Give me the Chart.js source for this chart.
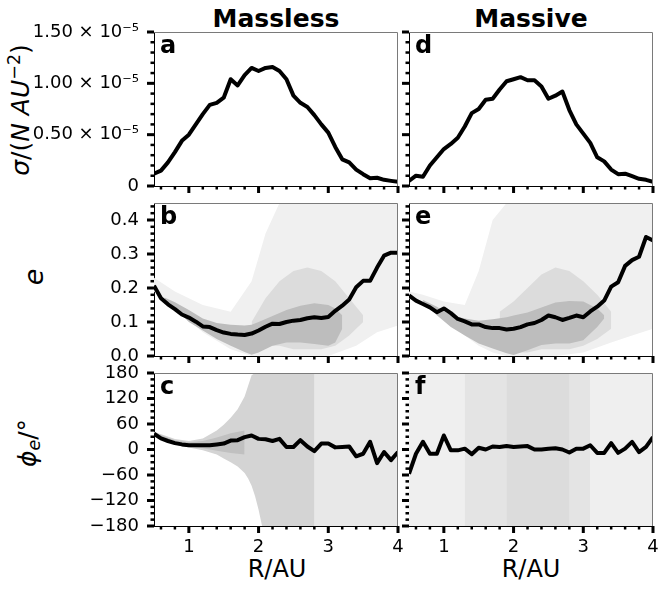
<!DOCTYPE html>
<html>
<head>
<meta charset="utf-8">
<script src="https://cdn.jsdelivr.net/npm/chart.js@4.4.0/dist/chart.umd.min.js"></script>
<style>
	body{margin:0;background:#fff;width:665px;height:589px;position:relative;overflow:hidden;font-family:"DejaVu Sans",sans-serif;}
	canvas{position:absolute;}
	.txt{position:absolute;white-space:nowrap;line-height:1;color:#000;}
	.title{font-size:25px;font-weight:bold;transform:translateX(-50%);}
	.xlab{font-size:24px;transform:translateX(-50%);}
	.ylab{font-size:25px;transform:translate(-50%,-50%) rotate(-90deg);}
	.ylab sup{font-size:0.7em;line-height:0;vertical-align:0.5em;}
	.ylab sub{font-size:0.7em;line-height:0;vertical-align:-0.25em;}
</style>
</head>
<body>
<div class="txt title" style="left:276px;top:6px">Massless</div>
<div class="txt title" style="left:531px;top:6px">Massive</div>
<div class="txt ylab" style="left:20px;top:110px"><i>σ</i>/(<i>N AU</i><sup>−2</sup>)</div>
<div class="txt ylab" style="left:33px;top:277px;font-size:27px"><i>e</i></div>
<div class="txt ylab" style="left:27px;top:443px"><i>ϕ<sub>e</sub></i>/°</div>
<div class="txt xlab" style="left:277px;top:557px">R/AU</div>
<div class="txt xlab" style="left:531px;top:557px">R/AU</div>
<canvas id="panelA"></canvas>
<canvas id="panelB"></canvas>
<canvas id="panelC"></canvas>
<canvas id="panelD"></canvas>
<canvas id="panelE"></canvas>
<canvas id="panelF"></canvas>
<script>
//RADIAL BINS (AU)
var radius=[0.5,0.6,0.7,0.8,0.9,1.0,1.1,1.2,1.3,1.4,1.5,1.6,1.7,1.8,1.9,2.0,2.1,2.2,2.3,2.4,2.5,2.6,2.7,2.8,2.9,3.0,3.1,3.2,3.3,3.4,3.5,3.6,3.7,3.8,3.9,4.0];

//SURFACE DENSITY IN UNITS OF 1e-5 N AU^-2
var sigmaMassless=[0.12,0.15,0.23,0.33,0.44,0.50,0.60,0.70,0.79,0.81,0.86,1.04,0.98,1.08,1.15,1.12,1.15,1.16,1.12,1.04,0.88,0.81,0.77,0.69,0.60,0.52,0.38,0.26,0.23,0.16,0.115,0.075,0.08,0.06,0.05,0.04];
var sigmaMassive=[0.05,0.10,0.09,0.20,0.28,0.36,0.41,0.47,0.58,0.71,0.75,0.84,0.85,0.94,1.02,1.04,1.06,1.03,1.03,0.97,0.85,0.88,0.92,0.74,0.60,0.51,0.42,0.28,0.24,0.16,0.115,0.12,0.095,0.07,0.06,0.04];

//MEAN ECCENTRICITY
var eccMassless=[0.207,0.170,0.152,0.138,0.122,0.113,0.101,0.087,0.085,0.076,0.069,0.065,0.063,0.062,0.066,0.075,0.086,0.095,0.094,0.100,0.104,0.106,0.111,0.114,0.112,0.115,0.133,0.148,0.166,0.202,0.221,0.221,0.260,0.295,0.304,0.304];
var eccMassive=[0.178,0.163,0.153,0.143,0.129,0.140,0.126,0.109,0.102,0.093,0.093,0.085,0.082,0.082,0.078,0.080,0.085,0.093,0.097,0.106,0.119,0.114,0.106,0.112,0.119,0.114,0.131,0.145,0.163,0.204,0.217,0.265,0.282,0.292,0.350,0.340];

//MEAN ECCENTRICITY PHASE (DEG)
var phaseMassless=[37,26,20,15,12,10,10,10,10,12,14,21,22,29,33,25,24,20,25,6,6,22,7,-4,14,14,5,6,7,-16,-10,18,-32,-6,-25,-6];
var phaseMassive=[-57,-10,18,-10,-10,33,-2,-2,2,-11,4,0,7,6,8,6,7,8,0,0,2,3,0,-7,2,2,10,-8,-8,15,-8,2,18,-6,6,29];

//PARTICLE CLOUD ENVELOPES, PANEL b
var bSparseX=[0.5,0.8,1.2,1.6,1.9,2.1,2.3,2.6,3.0,3.4,3.7,4.0];
var bSparseHi=[0.23,0.19,0.15,0.13,0.22,0.36,0.45,0.45,0.45,0.45,0.45,0.45];
var bSparseLo=[0.19,0.14,0.07,0.02,0.0,0.0,0.0,0.0,0.0,0.03,0.07,0.09];
var bMedX=[1.9,2.1,2.3,2.5,2.7,2.9,3.1,3.3,3.5];
var bMedHi=[0.10,0.17,0.22,0.25,0.26,0.25,0.22,0.17,0.12];
var bMedLo=[0.06,0.03,0.03,0.02,0.02,0.02,0.03,0.06,0.10];
var bDenseX=[0.65,0.8,1.0,1.2,1.4,1.6,1.8,1.9,2.0,2.2,2.4,2.6,2.8,3.0,3.1,3.2];
var bDenseHi=[0.172,0.158,0.135,0.11,0.097,0.092,0.09,0.092,0.1,0.118,0.135,0.148,0.155,0.15,0.14,0.12];
var bDenseLo=[0.165,0.14,0.10,0.075,0.05,0.03,0.012,0.004,0.01,0.03,0.04,0.04,0.035,0.03,0.04,0.08];

//PARTICLE CLOUD ENVELOPES, PANEL e
var eSparseX=[0.5,0.7,1.0,1.3,1.5,1.7,1.9,2.2,2.6,3.0,3.4,3.7,4.0];
var eSparseHi=[0.19,0.18,0.16,0.15,0.25,0.40,0.45,0.45,0.45,0.45,0.45,0.45,0.45];
var eSparseLo=[0.17,0.15,0.11,0.06,0.03,0.01,0.0,0.0,0.0,0.01,0.04,0.06,0.08];
var eMedX=[1.8,2.0,2.2,2.4,2.6,2.8,3.0,3.2,3.4];
var eMedHi=[0.13,0.16,0.20,0.24,0.26,0.25,0.22,0.18,0.13];
var eMedLo=[0.03,0.01,0.01,0.02,0.02,0.02,0.03,0.05,0.08];
var eDenseX=[0.7,0.9,1.1,1.3,1.5,1.7,1.9,2.0,2.2,2.4,2.6,2.8,3.0,3.2,3.3];
var eDenseHi=[0.165,0.145,0.12,0.11,0.104,0.108,0.114,0.119,0.128,0.143,0.157,0.162,0.16,0.14,0.12];
var eDenseLo=[0.16,0.12,0.085,0.06,0.037,0.022,0.008,0.003,0.017,0.032,0.037,0.037,0.046,0.085,0.11];

//PARTICLE CLOUD ENVELOPES, PANEL c
var cLightX=[2.05,4.0];
var cLightHi=[180,180];
var cLightLo=[-180,-180];
var cMedX=[0.5,0.8,1.0,1.2,1.4,1.5,1.6,1.7,1.8,1.85,1.9,1.95,2.0,2.05,2.8];
var cMedHi=[42,25,20,26,45,58,75,95,125,150,175,180,180,180,180];
var cMedLo=[33,12,5,-2,-12,-21,-30,-40,-55,-68,-85,-110,-142,-180,-180];
var cDenseX=[0.5,0.8,1.0,1.2,1.4,1.6,1.8];
var cDenseHi=[40,22,17,20,28,38,45];
var cDenseLo=[34,14,7,3,-3,-8,-12];

//PARTICLE CLOUD ENVELOPES, PANEL f
var fLightX=[0.5,4.0];
var fLightHi=[180,180];
var fLightLo=[-180,-180];
var fMedX=[1.3,3.1];
var fMedHi=[180,180];
var fMedLo=[-180,-180];
var fDenseX=[1.9,2.8];
var fDenseHi=[180,180];
var fDenseLo=[-180,-180];

//AXIS TICKS
var radiusTicks=[1,2,3,4];
var sigmaTicks=[0,0.5,1.0,1.5];
var eccTicks=[0.0,0.1,0.2,0.3,0.4];
var phaseTicks=[-180,-120,-60,0,60,120,180];

Chart.defaults.font.family='"DejaVu Sans", sans-serif';
Chart.defaults.font.size=18;
Chart.defaults.color='#000';

//FRAME GEOMETRY OF THE 3x2 GRID
var colLeft=[154,409];
var rowTop=[32,203,373];
var rowHeight=[154,153,153];
var plotWidth=244;

//LABEL FORMATS
function fmtSigma(v){
	if (v===0){
		return "0";
	}
	return v.toFixed(2)+" \u00d7 10\u207b\u2075";
}
function fmtEcc(v){
	return v.toFixed(1);
}
function fmtPhase(v){
	if (v<0){
		return "\u2212"+Math.abs(v);
	}
	return String(v);
}

//PLUGIN TO DRAW MAJOR/MINOR TICK MARKS, LIGHT SPINES AND PANEL LETTER
var tickMarks={
	id:"tickMarks",
	afterDraw:function(chart){
		var o=chart.options.plugins.tickMarks;
		var ctx=chart.ctx;
		var a=chart.chartArea;
		var xs=chart.scales.x;
		var ys=chart.scales.y;
		ctx.save();
		ctx.strokeStyle="#7a7a7a";
		ctx.lineWidth=1;
		ctx.beginPath();
		ctx.moveTo(a.left,a.top+0.5);
		ctx.lineTo(a.right-0.5,a.top+0.5);
		ctx.lineTo(a.right-0.5,a.bottom);
		ctx.stroke();
		ctx.fillStyle="#000";
		var isMajor=function(list,v){
			return list.some(function(m){return Math.abs(m-v)<1e-9;});
		};
		var i,v,p;
		var i0=Math.ceil(ys.min/o.yStep-1e-9), i1=Math.floor(ys.max/o.yStep+1e-9);
		for (i=i0;i<=i1;i++){
			v=i*o.yStep;
			p=ys.getPixelForValue(v);
			if (isMajor(o.yMajor,v)){
				ctx.fillRect(a.left-7,p-1.5,7,3);
			}else{
				ctx.fillRect(a.left-3.5,p-1.25,3.5,2.5);
			}
		}
		i0=Math.ceil(xs.min/o.xStep-1e-9);
		i1=Math.floor(xs.max/o.xStep+1e-9);
		for (i=i0;i<=i1;i++){
			v=i*o.xStep;
			p=xs.getPixelForValue(v);
			if (isMajor(o.xMajor,v)){
				ctx.fillRect(p-1.5,a.bottom,3,7);
			}else{
				ctx.fillRect(p-1.25,a.bottom,2.5,3.5);
			}
		}
		ctx.font='bold 24px "DejaVu Sans"';
		ctx.textBaseline="alphabetic";
		ctx.fillText(o.letter,a.left+6,a.top+21);
		ctx.restore();
	}
};

//BUILD LINE AND BAND DATASETS
function lineSet(vals){
	return {
		data:radius.map(function(x,i){return {x:x,y:vals[i]};}),
		borderColor:"#000",borderWidth:4,pointRadius:0,fill:false,order:0,
		borderJoinStyle:"round",borderCapStyle:"butt"
	};
}
function bandSets(xs,hi,lo,color,order){
	return [
		{data:xs.map(function(x,i){return {x:x,y:hi[i]};}),borderColor:"rgba(0,0,0,0)",borderWidth:0,pointRadius:0,backgroundColor:color,fill:"+1",order:order},
		{data:xs.map(function(x,i){return {x:x,y:lo[i]};}),borderColor:"rgba(0,0,0,0)",borderWidth:0,pointRadius:0,fill:false,order:order}
	];
}

//CREATE ONE PANEL
function makePanel(p){
	var axisW=(p.col===0)?colLeft[0]:14;
	var xAxisH=(p.row===2)?36:22;
	var padTop=22, padRight=10;
	var cv=document.getElementById(p.id);
	var w=axisW+plotWidth+padRight;
	var h=padTop+rowHeight[p.row]+xAxisH;
	cv.width=w;
	cv.height=h;
	cv.style.width=w+"px";
	cv.style.height=h+"px";
	cv.style.left=(colLeft[p.col]-axisW)+"px";
	cv.style.top=(rowTop[p.row]-padTop)+"px";
	var datasets=[lineSet(p.values)];
	p.bands.forEach(function(b){
		datasets=datasets.concat(bandSets(b[0],b[1],b[2],b[3],b[4]));
	});
	return new Chart(cv,{
		type:"line",
		data:{datasets:datasets},
		options:{
			responsive:false,animation:false,events:[],
			layout:{padding:{top:padTop,right:padRight,left:0,bottom:0}},
			plugins:{
				legend:{display:false},tooltip:{enabled:false},
				tickMarks:{letter:p.letter,xMajor:radiusTicks,xStep:0.2,yMajor:p.yTicks,yStep:p.yStep}
			},
			scales:{
				x:{
					type:"linear",min:0.5,max:4,
					grid:{display:false},
					border:{display:true,color:"#000",width:1},
					ticks:{display:p.row===2,padding:3,maxRotation:0,autoSkip:false,callback:function(v){return String(v);}},
					afterBuildTicks:function(s){s.ticks=radiusTicks.map(function(v){return {value:v};});},
					afterFit:function(s){s.height=xAxisH;}
				},
				y:{
					type:"linear",min:p.yMin,max:p.yMax,
					grid:{display:false},
					border:{display:true,color:"#000",width:1},
					ticks:{display:p.col===0,padding:7,autoSkip:false,callback:p.fmt},
					afterBuildTicks:function(s){s.ticks=p.yTicks.map(function(v){return {value:v};});},
					afterFit:function(s){s.width=axisW;}
				}
			}
		},
		plugins:[tickMarks]
	});
}

var panels=[
	{id:"panelA",col:0,row:0,letter:"a",values:sigmaMassless,yMin:0,yMax:1.5,yTicks:sigmaTicks,yStep:0.1,fmt:fmtSigma,bands:[]},
	{id:"panelB",col:0,row:1,letter:"b",values:eccMassless,yMin:0,yMax:0.45,yTicks:eccTicks,yStep:0.02,fmt:fmtEcc,bands:[
		[bSparseX,bSparseHi,bSparseLo,"#f0f0f0",3],
		[bMedX,bMedHi,bMedLo,"#dcdcdc",2],
		[bDenseX,bDenseHi,bDenseLo,"#bdbdbd",1]
	]},
	{id:"panelC",col:0,row:2,letter:"c",values:phaseMassless,yMin:-180,yMax:180,yTicks:phaseTicks,yStep:15,fmt:fmtPhase,bands:[
		[cLightX,cLightHi,cLightLo,"#e8e8e8",3],
		[cMedX,cMedHi,cMedLo,"#d4d4d4",2],
		[cDenseX,cDenseHi,cDenseLo,"#c0c0c0",1]
	]},
	{id:"panelD",col:1,row:0,letter:"d",values:sigmaMassive,yMin:0,yMax:1.5,yTicks:sigmaTicks,yStep:0.1,fmt:fmtSigma,bands:[]},
	{id:"panelE",col:1,row:1,letter:"e",values:eccMassive,yMin:0,yMax:0.45,yTicks:eccTicks,yStep:0.02,fmt:fmtEcc,bands:[
		[eSparseX,eSparseHi,eSparseLo,"#f0f0f0",3],
		[eMedX,eMedHi,eMedLo,"#dcdcdc",2],
		[eDenseX,eDenseHi,eDenseLo,"#bdbdbd",1]
	]},
	{id:"panelF",col:1,row:2,letter:"f",values:phaseMassive,yMin:-180,yMax:180,yTicks:phaseTicks,yStep:15,fmt:fmtPhase,bands:[
		[fLightX,fLightHi,fLightLo,"#efefef",3],
		[fMedX,fMedHi,fMedLo,"#e4e4e4",2],
		[fDenseX,fDenseHi,fDenseLo,"#dcdcdc",1]
	]}
];

panels.forEach(makePanel);
</script>
</body>
</html>
